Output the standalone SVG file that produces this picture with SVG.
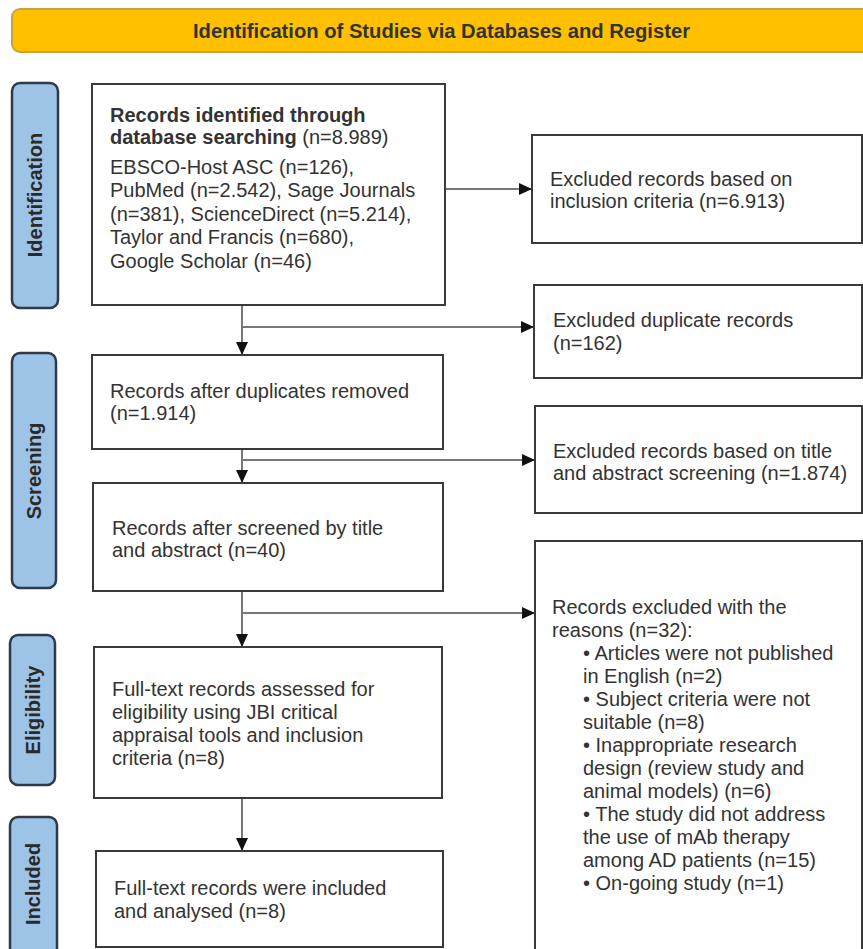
<svg xmlns="http://www.w3.org/2000/svg" width="863" height="949" viewBox="0 0 863 949">
<style>
text{font-family:"Liberation Sans",Arial,sans-serif;fill:#333;}
.t{font-size:20px;}
.b{font-weight:bold;}
.box{fill:#fff;stroke:#3a3a3a;stroke-width:2;}
.lab{fill:#9dc3e6;stroke:#2e3a4a;stroke-width:2.5;}
.labt{font-size:20px;font-weight:bold;fill:#2a2a2a;}
.con{fill:none;stroke:#777;stroke-width:2;}
</style>
<defs>
<marker id="ah" markerUnits="userSpaceOnUse" markerWidth="14" markerHeight="14" viewBox="0 0 14 14" refX="13" refY="7" orient="auto">
<path d="M0,1 L13,7 L0,13 Z" fill="#111"/>
</marker>
</defs>
<rect width="863" height="949" fill="#fff"/>
<g id="banner">
<rect x="12" y="9" width="870" height="43" rx="8" fill="#ffc000" stroke="#c9a43a" stroke-width="2"/>
<text x="193" y="38" class="b" font-size="20" textLength="497" lengthAdjust="spacingAndGlyphs" fill="#2a2a2a">Identification of Studies via Databases and Register</text>
</g>
<g id="label-identification">
<rect x="12" y="83" width="46" height="225" rx="8" class="lab"/>
<text class="labt" text-anchor="middle" transform="translate(42,195) rotate(-90)">Identification</text>
</g>
<g id="label-screening">
<rect x="12" y="353" width="44" height="235" rx="8" class="lab"/>
<text class="labt" text-anchor="middle" transform="translate(41,471) rotate(-90)">Screening</text>
</g>
<g id="label-eligibility">
<rect x="10" y="635" width="45" height="150" rx="8" class="lab"/>
<text class="labt" text-anchor="middle" transform="translate(40,710) rotate(-90)">Eligibility</text>
</g>
<g id="label-included">
<rect x="10" y="817" width="47" height="140" rx="8" class="lab"/>
<text class="labt" text-anchor="middle" transform="translate(40,884) rotate(-90)">Included</text>
</g>
<g id="connectors">
<path class="con" d="M445,189 H532" marker-end="url(#ah)"/>
<path class="con" d="M242,305 V355" marker-end="url(#ah)"/>
<path class="con" d="M242,327 H534" marker-end="url(#ah)"/>
<path class="con" d="M242,449 V483" marker-end="url(#ah)"/>
<path class="con" d="M242,460 H535" marker-end="url(#ah)"/>
<path class="con" d="M242,591 V647" marker-end="url(#ah)"/>
<path class="con" d="M242,613 H535" marker-end="url(#ah)"/>
<path class="con" d="M242,798 V851" marker-end="url(#ah)"/>
</g>
<g id="records-identified">
<rect x="92" y="84" width="353" height="221" class="box"/>
<text class="t b" x="110" y="122">Records identified through</text>
<text class="t" x="110" y="144"><tspan class="b">database searching</tspan> (n=8.989)</text>
<text class="t" x="110" y="174">EBSCO-Host ASC (n=126),</text>
<text class="t" x="110" y="197">PubMed (n=2.542), Sage Journals</text>
<text class="t" x="110" y="221">(n=381), ScienceDirect (n=5.214),</text>
<text class="t" x="110" y="244">Taylor and Francis (n=680),</text>
<text class="t" x="110" y="268">Google Scholar (n=46)</text>
</g>
<g id="excluded-inclusion">
<rect x="532" y="135" width="330" height="108" class="box"/>
<text class="t" x="550" y="186">Excluded records based on</text>
<text class="t" x="550" y="208">inclusion criteria (n=6.913)</text>
</g>
<g id="excluded-duplicates">
<rect x="534" y="285" width="328" height="93" class="box"/>
<text class="t" x="553" y="327">Excluded duplicate records</text>
<text class="t" x="553" y="350">(n=162)</text>
</g>
<g id="after-duplicates">
<rect x="92" y="355" width="351" height="94" class="box"/>
<text class="t" x="110" y="398">Records after duplicates removed</text>
<text class="t" x="110" y="420">(n=1.914)</text>
</g>
<g id="excluded-title-abstract">
<rect x="535" y="406" width="327" height="107" class="box"/>
<text class="t" x="553" y="458">Excluded records based on title</text>
<text class="t" x="553" y="480">and abstract screening (n=1.874)</text>
</g>
<g id="after-screened">
<rect x="93" y="483" width="350" height="108" class="box"/>
<text class="t" x="112" y="535">Records after screened by title</text>
<text class="t" x="112" y="557">and abstract (n=40)</text>
</g>
<g id="excluded-reasons">
<rect x="535" y="541" width="327" height="412" class="box"/>
<text class="t" x="552" y="614">Records excluded with the</text>
<text class="t" x="552" y="637">reasons (n=32):</text>
<text class="t" x="583" y="660">• Articles were not published</text>
<text class="t" x="583" y="683">in English (n=2)</text>
<text class="t" x="583" y="706">• Subject criteria were not</text>
<text class="t" x="583" y="729">suitable (n=8)</text>
<text class="t" x="583" y="752">• Inappropriate research</text>
<text class="t" x="583" y="775">design (review study and</text>
<text class="t" x="583" y="798">animal models) (n=6)</text>
<text class="t" x="583" y="821">• The study did not address</text>
<text class="t" x="583" y="844">the use of mAb therapy</text>
<text class="t" x="583" y="867">among AD patients (n=15)</text>
<text class="t" x="583" y="890">• On-going study (n=1)</text>
</g>
<g id="full-text-assessed">
<rect x="94" y="647" width="348" height="151" class="box"/>
<text class="t" x="112" y="696">Full-text records assessed for</text>
<text class="t" x="112" y="719">eligibility using JBI critical</text>
<text class="t" x="112" y="742">appraisal tools and inclusion</text>
<text class="t" x="112" y="765">criteria (n=8)</text>
</g>
<g id="included">
<rect x="96" y="851" width="347" height="96" class="box"/>
<text class="t" x="114" y="895">Full-text records were included</text>
<text class="t" x="114" y="918">and analysed (n=8)</text>
</g>
</svg>
